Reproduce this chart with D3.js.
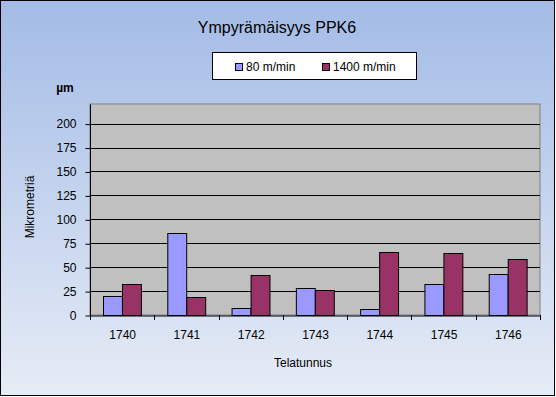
<!DOCTYPE html>
<html><head><meta charset="utf-8">
<script src="https://cdn.jsdelivr.net/npm/d3@7"></script>
<style>html,body{margin:0;padding:0;background:#fff}svg{display:block}text{font-family:"Liberation Sans",Arial,sans-serif}</style>
</head><body>
<script>
const categories = ["1740","1741","1742","1743","1744","1745","1746"];
const seriesNames = ["80 m/min","1400 m/min"];
const values80 = [20, 86, 7, 28, 6, 32, 43];
const values1400 = [32, 19, 42, 26, 66, 65, 58];
const yTicks = [0,25,50,75,100,125,150,175,200];
const colors = ["#9999ff","#993366"];

const W = 556, H = 397;
const svg = d3.select("body").append("svg").attr("width", W).attr("height", H);
const defs = svg.append("defs");
const g = defs.append("linearGradient").attr("id","bg").attr("x1",0).attr("y1",0).attr("x2",0).attr("y2",1);
g.append("stop").attr("offset","0%").attr("stop-color","#a3bbe6");
g.append("stop").attr("offset","100%").attr("stop-color","#e6ecf6");
svg.append("rect").attr("x",0.5).attr("y",0.5).attr("width",W-2).attr("height",H-2)
  .attr("fill","url(#bg)").attr("stroke","#000").attr("stroke-width",1);

const plot = {l:90, r:540, t:104, b:315};
const x = d3.scaleBand().domain(categories).range([plot.l, plot.r]).paddingInner(0).paddingOuter(0);
const y = d3.scaleLinear().domain([0, 220.5]).range([plot.b, plot.t]);
const x1 = d3.scaleBand().domain(seriesNames).range([0, x.bandwidth()]).paddingInner(0).paddingOuter(0.7);

svg.append("rect").attr("x",plot.l).attr("y",plot.t).attr("width",plot.r-plot.l).attr("height",plot.b-plot.t)
  .attr("fill","#c0c0c0").attr("stroke","#808080").attr("stroke-width",1);

// gridlines
svg.append("g").selectAll("line").data(yTicks.filter(d=>d>0)).join("line")
  .attr("x1",plot.l).attr("x2",plot.r)
  .attr("y1",d=>Math.round(y(d))+0.5).attr("y2",d=>Math.round(y(d))+0.5)
  .attr("stroke","#000").attr("stroke-width",1);

// bars
const data = categories.map((c,i)=>({c, v:[values80[i], values1400[i]]}));
const grp = svg.append("g").selectAll("g").data(data).join("g")
  .attr("transform", d=>`translate(${x(d.c)},0)`);
grp.selectAll("rect").data(d=>d.v.map((v,k)=>({v,k}))).join("rect")
  .attr("x", d=>Math.round(x1(seriesNames[d.k]))+0.5)
  .attr("width", x1.bandwidth())
  .attr("y", d=>Math.round(y(d.v))+0.5)
  .attr("height", d=>Math.round(y(0))-Math.round(y(d.v)))
  .attr("fill", d=>colors[d.k]).attr("stroke","#000").attr("stroke-width",1);

// y axis
const ya = svg.append("g").attr("transform",`translate(${plot.l+0.5},0.5)`)
  .call(d3.axisLeft(y).tickValues(yTicks).tickSize(5).tickPadding(9));
ya.select(".domain").attr("stroke","#000").attr("d",`M-0,${plot.t}V${plot.b}`);
ya.selectAll("line").attr("stroke","#000");
ya.selectAll("text").attr("font-size",12).attr("fill","#000").attr("font-family","Liberation Sans, Arial, sans-serif");

// x axis
const xa = svg.append("g").attr("transform",`translate(0.5,${plot.b+0.5})`)
  .call(d3.axisBottom(x).tickSize(0).tickPadding(15));
xa.select(".domain").attr("stroke","#000");
xa.selectAll("text").attr("font-size",12).attr("fill","#000").attr("font-family","Liberation Sans, Arial, sans-serif");
// tick marks between categories
svg.append("g").selectAll("line").data(categories.concat(["end"])).join("line")
  .attr("x1",(d,i)=>Math.round(plot.l + i*x.bandwidth())+0.5)
  .attr("x2",(d,i)=>Math.round(plot.l + i*x.bandwidth())+0.5)
  .attr("y1",plot.b).attr("y2",plot.b+5).attr("stroke","#000");

// titles
svg.append("text").attr("x",277).attr("y",33).attr("text-anchor","middle")
  .attr("font-size",16).attr("fill","#000").text("Ympyrämäisyys PPK6");
svg.append("text").attr("x",65).attr("y",92).attr("text-anchor","middle")
  .attr("font-size",12).attr("font-weight","bold").attr("fill","#000").text("µm");
svg.append("text").attr("transform","translate(34,207) rotate(-90)").attr("text-anchor","middle")
  .attr("font-size",12).attr("fill","#000").text("Mikrometriä");
svg.append("text").attr("x",303).attr("y",367).attr("text-anchor","middle")
  .attr("font-size",12).attr("fill","#000").text("Telatunnus");

// legend
const lg = svg.append("g");
lg.append("rect").attr("x",212.5).attr("y",52.5).attr("width",204).attr("height",27)
  .attr("fill","#fff").attr("stroke","#000");
const legX = [235, 322];
seriesNames.forEach((s,i)=>{
  lg.append("rect").attr("x",legX[i]+0.5).attr("y",63.5).attr("width",7).attr("height",7)
    .attr("fill",colors[i]).attr("stroke","#000");
  lg.append("text").attr("x",legX[i]+11).attr("y",71).attr("font-size",12).attr("fill","#000").text(s);
});
</script>
</body></html>
